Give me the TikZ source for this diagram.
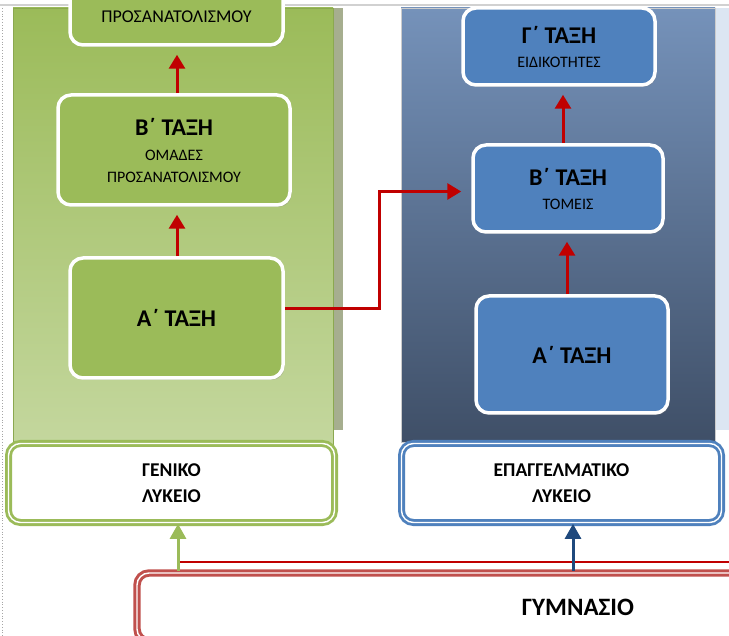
\documentclass[tikz,border=0pt]{standalone}
\usepackage{fontspec}
\setmainfont{Carlito}
\usetikzlibrary{arrows.meta,shadows,calc}
\definecolor{gfill}{HTML}{9BBB59}
\definecolor{gtop}{HTML}{9BBB59}
\definecolor{gbot}{HTML}{C4D79E}
\definecolor{gshad}{HTML}{A6AE8F}
\definecolor{btop}{HTML}{7592BA}
\definecolor{bbot}{HTML}{3F4F67}
\definecolor{bfill}{HTML}{4F81BD}
\definecolor{bstrip}{HTML}{DCE6F2}
\definecolor{darr}{HTML}{C00000}
\definecolor{rbox}{HTML}{C0504D}
\definecolor{dblue}{HTML}{1F497D}
\newcommand{\bigf}{\fontsize{24}{25}\selectfont\bfseries}
\newcommand{\lyf}{\fontsize{19.5}{26}\selectfont\bfseries}
\tikzset{
  classbox/.style={draw=white, line width=3.5pt, rounded corners=13pt, align=center,
    font=\fontsize{16}{24}\selectfont,
    drop shadow={opacity=0.35, shadow xshift=1.5pt, shadow yshift=-2pt}},
  gclass/.style={classbox, fill=gfill},
  bclass/.style={classbox, fill=bfill},
  lybox/.style={rounded corners=12pt, double=white, double distance=1.4pt, line width=2.8pt,
    fill=white, align=center, font=\lyf},
  redarr/.style={draw=darr, line width=3pt, -{Triangle[width=16pt,length=14pt]}},
  upgreen/.style={draw=gfill, line width=3pt, -{Triangle[width=16pt,length=15pt]}},
  upblue/.style={draw=dblue, line width=3pt, -{Triangle[width=16pt,length=15pt]}},
  redline/.style={draw=darr, line width=2.2pt},
}
\begin{document}
\begin{tikzpicture}[x=1pt,y=-1pt]
\useasboundingbox (0,0) rectangle (729,636);
\clip (0,0) rectangle (729,636);
% frame lines
\draw[line width=1.5pt, color=black!18] (0,5) -- (729,5);
\draw[dotted, line width=0.8pt, color=black!35] (2,8) -- (2,636);
% panels
\fill[gshad] (333,8) rectangle (343,430);
\shade[top color=gtop, bottom color=gbot, draw=gfill!90!black, line width=0.6pt] (13,8) rectangle (333,445);
\fill[bstrip] (716,8) rectangle (729,430);
\shade[top color=btop, bottom color=bbot, draw=white!80!black, line width=0.4pt] (401,8) rectangle (715,442);
% green column
\node[gclass, minimum width=213pt, minimum height=85pt] (g3) at (176.5,2.5) {};
\node[font=\fontsize{18}{20}\selectfont, anchor=base] (g3t) at (176.5,23) {ΠΡΟΣΑΝΑΤΟΛΙΣΜΟΥ};
\node[gclass, minimum width=232pt, minimum height=110pt] (gb2) at (174,150)
  {{\bigf Β΄ ΤΑΞΗ}\\[1pt]ΟΜΑΔΕΣ\\[-2pt]ΠΡΟΣΑΝΑΤΟΛΙΣΜΟΥ};
\node[gclass, minimum width=213pt, minimum height=120pt, font=\bigf] (ga1) at (176.5,318) {Α΄ ΤΑΞΗ};
% blue column
\node[bclass, minimum width=192pt, minimum height=77pt] (bg3) at (559,46.5)
  {{\bigf Γ΄ ΤΑΞΗ}\\ΕΙΔΙΚΟΤΗΤΕΣ};
\node[bclass, minimum width=190pt, minimum height=87pt] (bb2) at (568,188.5)
  {{\bigf Β΄ ΤΑΞΗ}\\ΤΟΜΕΙΣ};
\node[bclass, minimum width=192pt, minimum height=117pt, font=\bigf] (ba1) at (572,354.5) {\raisebox{-6pt}{Α΄ ΤΑΞΗ}};
% lyceum boxes
\node[lybox, draw=gfill, minimum width=326pt, minimum height=79pt] (gen) at (171.5,483) {ΓΕΝΙΚΟ\\ΛΥΚΕΙΟ};
\node[lybox, draw=bfill, minimum width=320pt, minimum height=79pt] (epa) at (561.5,483) {ΕΠΑΓΓΕΛΜΑΤΙΚΟ\\ΛΥΚΕΙΟ};
% gymnasio
\node[lybox, draw=rbox, line width=3pt, minimum width=882pt, minimum height=68pt,
  font=\fontsize{25}{28}\selectfont\bfseries] (gym) at (578,607) {ΓΥΜΝΑΣΙΟ};
% arrows
\draw[redarr] (gb2.north -| 177,0) -- ([yshift=-8pt]g3.south -| 177,0);
\draw[redarr] (ga1.north -| 177,0) -- ([yshift=-8pt]gb2.south -| 177,0);
\draw[redarr] (bb2.north -| 563,0) -- ([yshift=-8pt]bg3.south -| 563,0);
\draw[redarr] (ba1.north -| 567,0) -- ([yshift=-8pt]bb2.south -| 567,0);
\draw[redarr] ([yshift=9pt]ga1.east) -- ++(95,0) |- ([xshift=-10pt,yshift=-3pt]bb2.west);
\coordinate (ga) at (178,573);
\coordinate (ba) at (573,573);
\coordinate (rl1) at (178,562);
\coordinate (rl2) at (740,562);
\draw[redline] (rl1) -- (rl2);
\draw[upgreen] ([yshift=1pt]gym.north -| ga) -- (gen.south -| ga);
\draw[upblue] ([yshift=1pt]gym.north -| ba) -- (epa.south -| ba);
\end{tikzpicture}
\end{document}
